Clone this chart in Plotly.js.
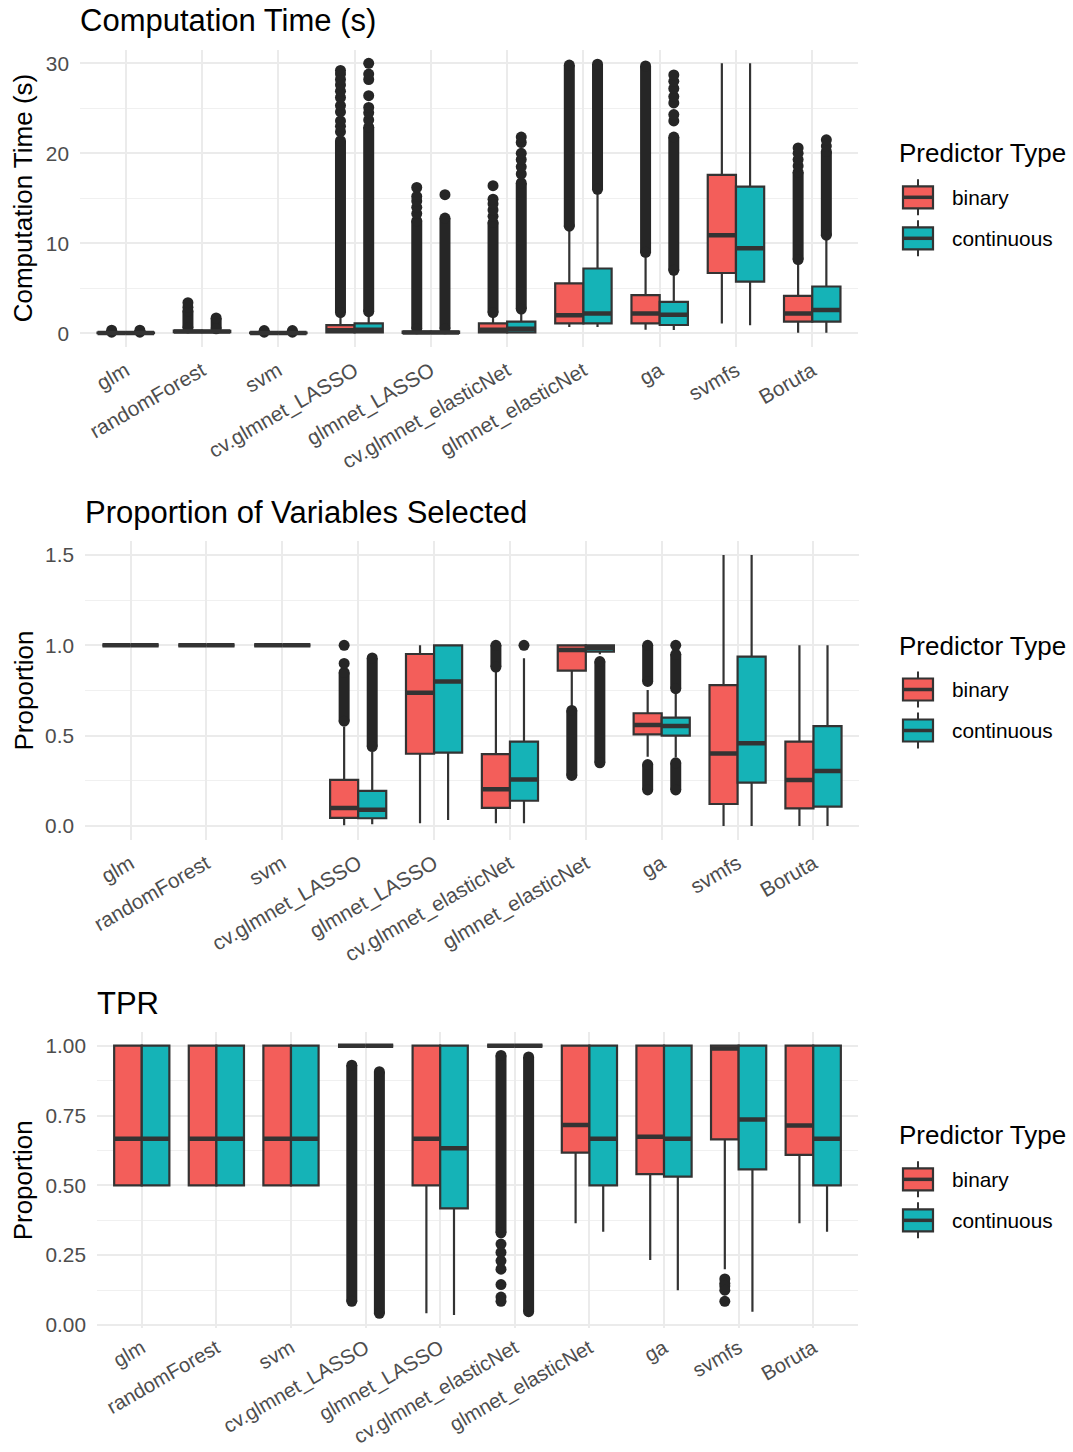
<!DOCTYPE html>
<html><head><meta charset="utf-8">
<script src="https://cdn.plot.ly/plotly-3.0.1.min.js"></script>
<style>html,body{margin:0;padding:0;background:#fff;}#chart{width:1073px;height:1452px;}</style>
</head><body><div id="chart"></div>
<script>
// ---------- DATA ----------
const categories = ['glm','randomForest','svm','cv.glmnet_LASSO','glmnet_LASSO','cv.glmnet_elasticNet','glmnet_elasticNet','ga','svmfs','Boruta'];
const groupNames = ['binary','continuous'];

// Panel 1: Computation Time (s)
const time_bin_q1  = [0.02, 0.12, 0.02, 0.10, 0.05, 0.10, 1.10, 1.10, 6.70, 1.30];
const time_bin_med = [0.04, 0.20, 0.04, 0.35, 0.10, 0.40, 2.00, 2.20, 10.90, 2.20];
const time_bin_q3  = [0.07, 0.30, 0.07, 0.90, 0.18, 1.10, 5.55, 4.25, 17.60, 4.15];
const time_bin_lo  = [0.00, 0.05, 0.00, 0.00, 0.00, 0.00, 0.70, 0.40, 1.10, 0.05];
const time_bin_hi  = [0.12, 0.55, 0.12, 2.00, 0.40, 2.00, 11.50, 8.70, 30.00, 7.80];
const time_bin_dense = [[[0.12,0.35]],[[0.6,2.5]],[[0.12,0.3]],[[2.3,21.4]],[[0.5,12.5]],[[2.3,12.3]],[[11.9,29.8]],[[9.0,29.7]],[],[[8.2,17.9]]];
const time_bin_out = [[],[2.9,3.4],[],[22.4,23.0,23.6,24.6,25.3,26.2,26.9,27.6,28.2,28.8,29.2],[13.3,14.0,14.7,15.2,16.2],[13.0,13.7,14.4,14.9,16.4],[],[],[],[18.6,19.3,20.0,20.6]];

const time_con_q1  = [0.02, 0.12, 0.02, 0.10, 0.05, 0.10, 1.10, 0.92, 5.75, 1.30];
const time_con_med = [0.04, 0.20, 0.04, 0.40, 0.10, 0.50, 2.20, 2.05, 9.45, 2.60];
const time_con_q3  = [0.07, 0.28, 0.07, 1.10, 0.18, 1.30, 7.20, 3.50, 16.30, 5.20];
const time_con_lo  = [0.00, 0.05, 0.00, 0.00, 0.00, 0.00, 0.70, 0.37, 0.90, 0.05];
const time_con_hi  = [0.12, 0.45, 0.12, 2.20, 0.40, 2.40, 15.70, 6.70, 30.00, 10.60];
const time_con_dense = [[[0.12,0.35]],[[0.5,1.7]],[[0.12,0.3]],[[2.4,22.9]],[[0.5,12.8]],[[2.7,16.7]],[[16.0,29.9]],[[7.0,21.8]],[],[[10.9,20.2]]];
const time_con_out = [[],[],[],[23.7,24.5,25.1,26.4,28.2,28.8,30.0],[15.4],[17.7,18.5,19.3,20.0,21.2,21.8],[],[23.6,24.3,25.6,26.3,27.2,28.0,28.7],[],[20.8,21.5]];

// Panel 2: Proportion of Variables Selected
const prop_bin_q1  = [1, 1, 1, 0.045, 0.400, 0.100, 0.860, 0.507, 0.122, 0.098];
const prop_bin_med = [1, 1, 1, 0.100, 0.738, 0.203, 0.974, 0.559, 0.402, 0.255];
const prop_bin_q3  = [1, 1, 1, 0.255, 0.952, 0.398, 1.000, 0.624, 0.780, 0.467];
const prop_bin_lo  = [1, 1, 1, 0.005, 0.015, 0.015, 0.660, 0.383, 0.000, 0.000];
const prop_bin_hi  = [1, 1, 1, 0.550, 1.000, 0.854, 1.000, 0.753, 1.500, 1.000];
const prop_bin_dense = [[],[],[],[[0.58,0.85]],[],[[0.88,1.0]],[[0.28,0.64]],[[0.80,1.0],[0.20,0.34]],[],[]];
const prop_bin_out = [[],[],[],[0.9,1.0],[],[],[],[],[],[]];

const prop_con_q1  = [1, 1, 1, 0.043, 0.406, 0.140, 0.965, 0.500, 0.240, 0.107];
const prop_con_med = [1, 1, 1, 0.090, 0.800, 0.258, 0.985, 0.553, 0.458, 0.304];
const prop_con_q3  = [1, 1, 1, 0.195, 1.000, 0.467, 1.000, 0.600, 0.937, 0.553];
const prop_con_lo  = [1, 1, 1, 0.010, 0.033, 0.015, 0.950, 0.380, 0.000, 0.000];
const prop_con_hi  = [1, 1, 1, 0.410, 1.000, 0.928, 1.000, 0.734, 1.500, 1.000];
const prop_con_dense = [[],[],[],[[0.44,0.93]],[],[],[[0.35,0.91]],[[0.76,0.95],[0.20,0.35]],[],[]];
const prop_con_out = [[],[],[],[],[],[1.0],[],[1.0],[],[]];

// Panel 3: TPR
const tpr_bin_q1  = [0.5, 0.5, 0.5, 1, 0.500, 1, 0.617, 0.540, 0.665, 0.609];
const tpr_bin_med = [0.667, 0.667, 0.667, 1, 0.667, 1, 0.716, 0.674, 0.990, 0.714];
const tpr_bin_q3  = [1, 1, 1, 1, 1, 1, 1, 1, 1, 1];
const tpr_bin_lo  = [0.5, 0.5, 0.5, 1, 0.042, 1, 0.364, 0.233, 0.200, 0.364];
const tpr_bin_hi  = [1, 1, 1, 1, 1, 1, 1, 1, 1, 1];
const tpr_bin_dense = [[],[],[],[[0.085,0.93]],[],[[0.33,0.965]],[],[],[],[]];
const tpr_bin_out = [[],[],[],[],[],[0.29,0.26,0.23,0.20,0.145,0.10,0.085],[],[],[0.165,0.15,0.14,0.125,0.085],[]];

const tpr_con_q1  = [0.5, 0.5, 0.5, 1, 0.418, 1, 0.500, 0.531, 0.557, 0.500];
const tpr_con_med = [0.667, 0.667, 0.667, 1, 0.633, 1, 0.667, 0.667, 0.736, 0.667];
const tpr_con_q3  = [1, 1, 1, 1, 1, 1, 1, 1, 1, 1];
const tpr_con_lo  = [0.5, 0.5, 0.5, 1, 0.036, 1, 0.334, 0.125, 0.048, 0.334];
const tpr_con_hi  = [1, 1, 1, 1, 1, 1, 1, 1, 1, 1];
const tpr_con_dense = [[],[],[],[[0.042,0.907]],[],[[0.048,0.96]],[],[],[],[]];
const tpr_con_out = [[],[],[],[],[],[],[],[],[],[]];

// ---------- STYLE / LAYOUT ----------
const W = 1073, H = 1452;
const FONT = 'Liberation Sans, Arial, Helvetica, sans-serif';
const COLORS = ['#F35E5A', '#15B3B7'];
const OUTLINE = '#333333';
const DOT = '#262626';
const DOTSIZE = 11;
const BOXW = 0.37, OFFS = [-0.185, 0.185];

const panels = [
  {title:'Computation Time (s)', ytitle:'Computation Time (s)', left:80, right:858, top:49.8, bottom:346.8,
   yrange:[-1.5,31.5], dtick:10, minor:5, fmt:'', xfont:20.8, xstand:7,
   data:[[time_bin_q1,time_bin_med,time_bin_q3,time_bin_lo,time_bin_hi,time_bin_dense,time_bin_out],
         [time_con_q1,time_con_med,time_con_q3,time_con_lo,time_con_hi,time_con_dense,time_con_out]]},
  {title:'Proportion of Variables Selected', ytitle:'Proportion', left:85, right:859, top:541.4, bottom:839.6,
   yrange:[-0.075,1.575], dtick:0.5, minor:0.25, fmt:'.1f', xfont:20.8, xstand:7,
   data:[[prop_bin_q1,prop_bin_med,prop_bin_q3,prop_bin_lo,prop_bin_hi,prop_bin_dense,prop_bin_out],
         [prop_con_q1,prop_con_med,prop_con_q3,prop_con_lo,prop_con_hi,prop_con_dense,prop_con_out]]},
  {title:'TPR', ytitle:'Proportion', left:97, right:858, top:1032.3, bottom:1328.4,
   yrange:[-0.012,1.048], dtick:0.25, minor:0.125, fmt:'.2f', xfont:20.3, xstand:3,
   data:[[tpr_bin_q1,tpr_bin_med,tpr_bin_q3,tpr_bin_lo,tpr_bin_hi,tpr_bin_dense,tpr_bin_out],
         [tpr_con_q1,tpr_con_med,tpr_con_q3,tpr_con_lo,tpr_con_hi,tpr_con_dense,tpr_con_out]]}
];

const px = v => v / W;
const py = v => 1 - v / H;

const traces = [];
const layout = {
  width: W, height: H, margin:{l:0,r:0,t:0,b:0},
  paper_bgcolor:'#ffffff', plot_bgcolor:'#ffffff',
  showlegend:false, font:{family:FONT, color:'#000000'},
  annotations:[], shapes:[]
};

panels.forEach((p, pi) => {
  const sfx = pi === 0 ? '' : String(pi + 1);
  const xa = 'x' + sfx, ya = 'y' + sfx;
  layout['xaxis' + sfx] = {
    domain:[px(p.left), px(p.right)], anchor: ya, range:[0.4, 10.6],
    tickmode:'array', tickvals: categories.map((c,i)=>i+1), ticktext: categories,
    tickangle:-30, tickfont:{size:p.xfont, color:'#4D4D4D', family:FONT},
    showgrid:true, gridcolor:'#EBEBEB', gridwidth:2, zeroline:false, showline:false,
    ticks:'', ticklabelstandoff:p.xstand, automargin:false, fixedrange:true
  };
  layout['yaxis' + sfx] = {
    domain:[py(p.bottom), py(p.top)], anchor: xa, range:p.yrange,
    tickmode:'linear', tick0:0, dtick:p.dtick, tickformat:p.fmt,
    tickfont:{size:20.8, color:'#4D4D4D', family:FONT},
    showgrid:true, gridcolor:'#EBEBEB', gridwidth:2, zeroline:false, showline:false,
    ticks:'', ticklabelstandoff:10, automargin:false, fixedrange:true,
    minor:{dtick:p.minor, tick0:0, showgrid:true, gridcolor:'#F0F0F0', gridwidth:1.2}
  };

  p.data.forEach((g, gi) => {
    const [q1, med, q3, lo, hi, dense, out] = g;
    const xs = categories.map((c,i) => i + 1 + OFFS[gi]);
    // outliers (dense runs)
    const dx = [], dy = [];
    dense.forEach((segs, i) => segs.forEach(s => { dx.push(xs[i], xs[i], null); dy.push(s[0], s[1], null); }));
    if (dx.length) traces.push({type:'scatter', mode:'lines+markers', xaxis:xa, yaxis:ya, x:dx, y:dy,
      line:{color:DOT, width:DOTSIZE}, marker:{color:DOT, size:DOTSIZE}, hoverinfo:'skip', connectgaps:false});
    // sparse outliers
    const ox = [], oy = [];
    out.forEach((arr, i) => arr.forEach(v => { ox.push(xs[i]); oy.push(v); }));
    if (ox.length) traces.push({type:'scatter', mode:'markers', xaxis:xa, yaxis:ya, x:ox, y:oy,
      marker:{color:DOT, size:DOTSIZE}, hoverinfo:'skip'});
    // boxes
    traces.push({type:'box', xaxis:xa, yaxis:ya, name:groupNames[gi], x:xs, q1:q1, median:med, q3:q3,
      lowerfence:lo, upperfence:hi, width:BOXW, whiskerwidth:0, boxpoints:false,
      fillcolor:COLORS[gi], line:{color:OUTLINE, width:2.2}, hoverinfo:'skip'});
    // thicker median lines
    const mx = [], my = [];
    med.forEach((m, i) => { mx.push(xs[i] - BOXW/2, xs[i] + BOXW/2, null); my.push(m, m, null); });
    traces.push({type:'scatter', mode:'lines', xaxis:xa, yaxis:ya, x:mx, y:my,
      line:{color:OUTLINE, width:4.5}, hoverinfo:'skip', connectgaps:false});
  });

  const cy = (p.top + p.bottom) / 2;
  // panel title
  layout.annotations.push({text:p.title, xref:'paper', yref:'paper', x:px(p.left - 2), y:py(p.top - 29),
    xanchor:'left', yanchor:'middle', showarrow:false, font:{size:31, color:'#000000', family:FONT}});
  // y axis title
  layout.annotations.push({text:p.ytitle, xref:'paper', yref:'paper', x:px(23), y:py(cy), textangle:-90,
    xanchor:'center', yanchor:'middle', showarrow:false, font:{size:26, color:'#000000', family:FONT}});
  // legend
  layout.annotations.push({text:'Predictor Type', xref:'paper', yref:'paper', x:px(897), y:py(cy - 45),
    xanchor:'left', yanchor:'middle', showarrow:false, font:{size:26, color:'#000000', family:FONT}});
  groupNames.forEach((gn, gi) => {
    const ky = cy + (gi === 0 ? -1 : 40);
    layout.shapes.push({type:'line', xref:'paper', yref:'paper', x0:px(918), x1:px(918), y0:py(ky-18), y1:py(ky+18),
      line:{color:OUTLINE, width:2}});
    layout.shapes.push({type:'rect', xref:'paper', yref:'paper', x0:px(903), x1:px(933), y0:py(ky-11), y1:py(ky+11),
      fillcolor:COLORS[gi], line:{color:OUTLINE, width:2.2}});
    layout.shapes.push({type:'line', xref:'paper', yref:'paper', x0:px(903), x1:px(933), y0:py(ky), y1:py(ky),
      line:{color:OUTLINE, width:3.5}});
    layout.annotations.push({text:gn, xref:'paper', yref:'paper', x:px(950), y:py(ky),
      xanchor:'left', yanchor:'middle', showarrow:false, font:{size:20.8, color:'#000000', family:FONT}});
  });
});

Plotly.newPlot('chart', traces, layout, {staticPlot:true, displayModeBar:false});
</script>
</body></html>
